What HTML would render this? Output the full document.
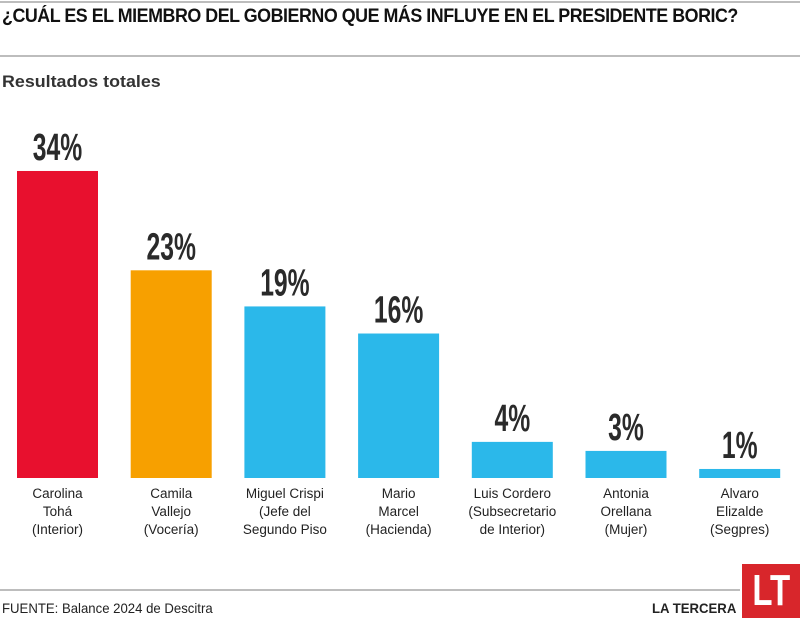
<!DOCTYPE html>
<html><head><meta charset="utf-8">
<style>
body{margin:0;background:#fff;}
#wrap{position:relative;width:800px;height:618px;overflow:hidden;background:#fff;font-family:"Liberation Sans",sans-serif;color:#222;}
.hl{position:absolute;left:0;height:2px;background:#bdbdbd;}
.title{position:absolute;left:2px;top:6px;font-weight:bold;font-size:19px;white-space:nowrap;transform-origin:0 0;transform:scaleX(0.94);letter-spacing:-0.5px;color:#111;}
.sub{position:absolute;left:2px;top:72px;font-weight:bold;font-size:17px;white-space:nowrap;transform-origin:0 0;transform:scaleX(1.05);color:#333;}
.foot{position:absolute;top:600px;font-size:14px;white-space:nowrap;transform-origin:0 0;transform:scaleX(0.94);color:#222;}
</style></head><body>
<div id="wrap">
<div class="hl" style="top:1px;width:800px"></div>
<div class="title">¿CUÁL ES EL MIEMBRO DEL GOBIERNO QUE MÁS INFLUYE EN EL PRESIDENTE BORIC?</div>
<div class="hl" style="top:55px;width:800px"></div>
<div class="sub">Resultados totales</div>
<svg id="chart" width="800" height="560" style="position:absolute;left:0;top:0"></svg>
<div class="hl" style="top:589px;width:740px"></div>
<div class="foot" style="left:2px">FUENTE: Balance 2024 de Descitra</div>
<div class="foot" style="left:652px;font-weight:bold">LA TERCERA</div>
<div style="position:absolute;left:742px;top:564px;width:58px;height:54px;background:#d8262b;color:#fff;font-weight:bold;font-size:44px;line-height:54px;text-align:center;"><span style="display:inline-block;transform:scaleX(0.75)">LT</span></div>
</div>
<script>
const categories=[["Carolina","Tohá","(Interior)"],["Camila","Vallejo","(Vocería)"],["Miguel Crispi","(Jefe del","Segundo Piso"],["Mario","Marcel","(Hacienda)"],["Luis Cordero","(Subsecretario","de Interior)"],["Antonia","Orellana","(Mujer)"],["Alvaro","Elizalde","(Segpres)"]];
const values=[34,23,19,16,4,3,1];
const valueLabels=["34%","23%","19%","16%","4%","3%","1%"];
const colors=["#e8102e","#f7a000","#2bb8ea","#2bb8ea","#2bb8ea","#2bb8ea","#2bb8ea"];
const NS="http://www.w3.org/2000/svg";
const svg=document.getElementById('chart');
const base=478, pxPer=9.03, x0=17, step=113.7, bw=81;
const y=v=>base-v*pxPer;
const x=i=>x0+i*step;
values.forEach((v,i)=>{
  const r=document.createElementNS(NS,'rect');
  r.setAttribute('x',x(i));r.setAttribute('y',y(v));r.setAttribute('width',bw);r.setAttribute('height',base-y(v));r.setAttribute('fill',colors[i]);
  
  
  svg.appendChild(r);
  const cx=x(i)+bw/2;
  const t=document.createElementNS(NS,'text');
  t.setAttribute('transform','translate('+cx+','+(y(v)-11)+') scale(0.65,1)');
  t.setAttribute('text-anchor','middle');t.setAttribute('font-size','38');t.setAttribute('font-weight','bold');t.setAttribute('fill','#2a2a2a');t.setAttribute('font-family','Liberation Sans, sans-serif');
  t.textContent=valueLabels[i];
  
  
  svg.appendChild(t);
  categories[i].forEach((ln,j)=>{
    const c=document.createElementNS(NS,'text');
    c.setAttribute('transform','translate('+cx+','+(498+j*18)+') scale(1,1)');
    c.setAttribute('text-anchor','middle');c.setAttribute('font-size','13.5');c.setAttribute('fill','#222');c.setAttribute('font-family','Liberation Sans, sans-serif');
    c.textContent=ln;
    
    
    svg.appendChild(c);
  });
});
</script>
</body></html>
